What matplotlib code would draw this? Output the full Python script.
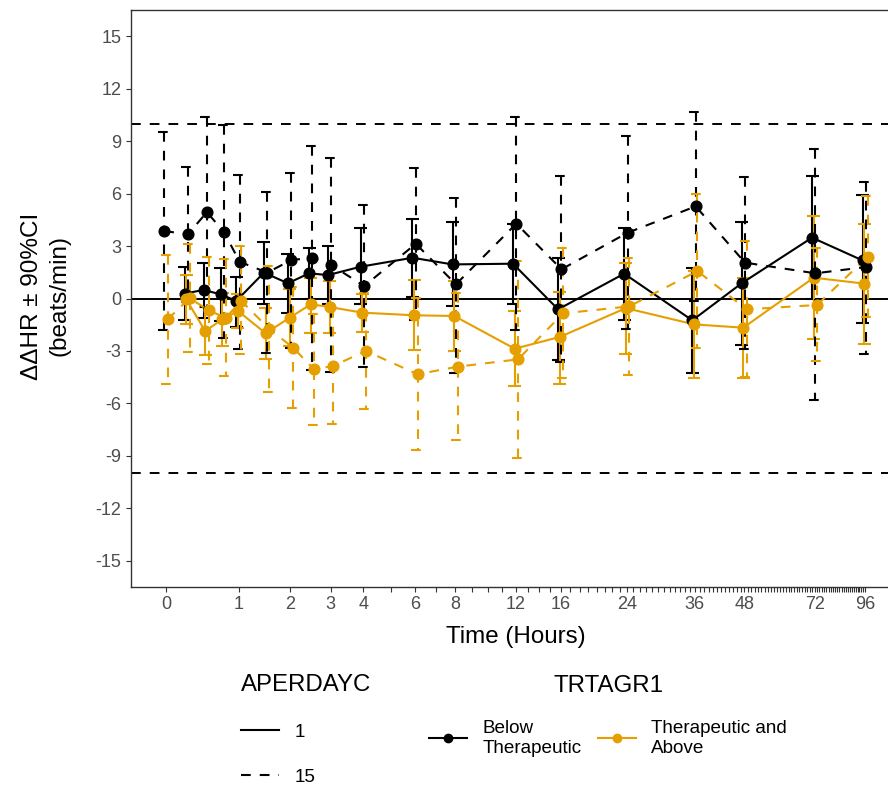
import matplotlib.pyplot as plt
import numpy as np
from matplotlib.lines import Line2D

plt.rcParams['font.family'] = ['Liberation Sans', 'DejaVu Sans']
plt.rcParams['lines.scale_dashes'] = False

ORANGE = "#E69F00"
DASH = (0, (7.0, 6.5))

# time points (hours)
t_solid = [0.25, 0.5, 0.75, 1, 1.5, 2, 2.5, 3, 4, 6, 8, 12, 16, 24, 36, 48, 72, 96]
t_dash = [0, 0.25, 0.5, 0.75, 1, 1.5, 2, 2.5, 3, 4, 6, 8, 12, 16, 24, 36, 48, 72, 96]

# Below Therapeutic, APERDAYC 1
bt1 = [0.28, 0.49, 0.24, -0.14, 1.48, 0.87, 1.44, 1.34, 1.82, 2.33, 1.95, 1.99, -0.62, 1.42, -1.25, 0.87, 3.48, 2.18]
bt1_lo = [-1.23, -1.10, -1.28, -1.63, -0.33, -0.81, -0.01, -0.30, -0.30, 0.10, -0.45, -0.30, -3.53, -1.21, -4.24, -2.68, -0.05, -1.38]
bt1_hi = [1.80, 2.05, 1.76, 1.25, 3.25, 2.52, 2.90, 3.00, 4.05, 4.56, 4.39, 4.28, 2.30, 4.05, 1.76, 4.39, 7.00, 5.90]

# Therapeutic and Above, APERDAYC 1
ta1 = [-0.05, -1.86, -1.19, -0.71, -1.99, -1.10, -0.33, -0.49, -0.81, -0.96, -1.00, -2.87, -2.20, -0.55, -1.48, -1.67, 1.19, 0.85]
ta1_lo = [-1.44, -3.23, -2.71, -1.66, -3.46, -2.72, -1.95, -2.00, -1.90, -2.96, -3.00, -5.03, -4.87, -3.20, -4.56, -4.52, -2.29, -2.62]
ta1_hi = [1.34, -0.46, 0.33, 0.24, -0.52, 0.52, 1.19, 1.00, 0.28, 1.06, 1.00, -0.71, 0.39, 2.05, 1.60, 1.19, 4.71, 4.27]

# Below Therapeutic, APERDAYC 15
bt15 = [3.86, 3.67, 4.94, 3.80, 2.10, 1.48, 2.20, 2.33, 1.91, 0.71, 3.13, 0.81, 4.28, 1.67, 3.76, 5.27, 2.05, 1.44, 1.80]
bt15_lo = [-1.82, -0.19, -0.51, -2.25, -2.86, -3.13, -2.81, -4.09, -4.19, -3.91, -1.22, -4.24, -1.81, -3.66, -1.77, -0.14, -2.86, -5.80, -3.19]
bt15_hi = [9.51, 7.53, 10.39, 9.91, 7.06, 6.10, 7.19, 8.75, 8.01, 5.34, 7.48, 5.72, 10.37, 7.00, 9.29, 10.68, 6.96, 8.56, 6.66]

# Therapeutic and Above, APERDAYC 15
ta15 = [-1.19, 0.02, -0.68, -1.10, -0.14, -1.73, -2.81, -4.05, -3.86, -3.00, -4.33, -3.90, -3.48, -0.85, -0.45, 1.57, -0.62, -0.37, 2.39]
ta15_lo = [-4.87, -3.04, -3.76, -4.45, -3.19, -5.32, -6.27, -7.23, -7.15, -6.33, -8.68, -8.09, -9.13, -4.52, -4.40, -2.81, -4.50, -3.57, -1.08]
ta15_hi = [2.49, 3.09, 2.39, 2.24, 3.00, 1.86, 0.65, -0.87, -0.57, 0.33, 0.02, 0.29, 2.17, 2.87, 2.30, 5.95, 3.29, 2.90, 5.86]

x_breaks = [0, 1, 2, 3, 4, 6, 8, 12, 16, 24, 36, 48, 72, 96]
y_breaks = list(range(-15, 16, 3))


def fwd(x):
    return np.log(np.asarray(x, dtype=float) + 2)


def inv(y):
    return np.exp(np.asarray(y, dtype=float)) - 2


# dodge order: solid black, solid orange, dashed black, dashed orange
series = [
    (t_solid, bt1, bt1_lo, bt1_hi, "black", "-"),
    (t_solid, ta1, ta1_lo, ta1_hi, ORANGE, "-"),
    (t_dash, bt15, bt15_lo, bt15_hi, "black", DASH),
    (t_dash, ta15, ta15_lo, ta15_hi, ORANGE, DASH),
]
dodge_w = 0.0375
cap = 0.036
lw = 1.5

fig = plt.figure(figsize=(8.88, 7.86), dpi=100)
ax = fig.add_axes([131 / 888, 1 - 587 / 786, 769 / 888, 577 / 786])
ax.set_xscale('function', functions=(fwd, inv))

ax.axhline(0, color="black", lw=1.4, zorder=1)
ax.axhline(10, color="black", lw=1.4, ls=DASH, zorder=1)
ax.axhline(-10, color="black", lw=1.4, ls=DASH, zorder=1)

for k, (t, y, lo, hi, col, ls) in enumerate(series):
    offs = []
    for tt in t:
        present = [i for i, s in enumerate(series) if tt in s[0]]
        n = len(present)
        j = present.index(k)
        offs.append(-dodge_w / 2 + dodge_w / (2 * n) + j * dodge_w / n)
    xl_ = fwd(t) + np.array(offs)
    x = inv(xl_)
    ax.vlines(x, hi, lo, colors=col, linestyles=ls, lw=lw, zorder=2)
    ax.hlines(hi, inv(xl_ - cap), inv(xl_ + cap), colors=col, linestyles=ls, lw=lw, zorder=2)
    ax.hlines(lo, inv(xl_ - cap), inv(xl_ + cap), colors=col, linestyles=ls, lw=lw, zorder=2)
    ax.plot(x, y, color=col, ls=ls, lw=lw, zorder=3)
    ax.plot(x, y, 'o', color=col, ms=7.7, zorder=4)

rng = fwd(96) - fwd(0)
ax.set_xlim(inv(fwd(0) - 0.05 * rng), inv(fwd(96) + 0.05 * rng))
ax.set_ylim(-16.5, 16.5)

ax.set_xticks(x_breaks)
ax.set_xticklabels([str(b) for b in x_breaks])
ax.set_xticks([v for v in range(0, 97) if v not in x_breaks], minor=True)
ax.set_yticks(y_breaks)
ax.set_yticklabels([str(b) for b in y_breaks])
ax.tick_params(axis='both', which='both', colors="#333333", labelcolor="#4D4D4D",
               length=3.5, width=0.8, labelsize=13)
ax.tick_params(axis='x', which='both', pad=3)
for sp in ax.spines.values():
    sp.set_color("#333333")
    sp.set_linewidth(1.0)

ax.set_xlabel("Time (Hours)", fontsize=17.4, labelpad=9)
fig.text(46 / 888, 1 - 296 / 786, "ΔΔHR ± 90%CI\n(beats/min)", rotation=90,
         ha='center', va='center', multialignment='center', fontsize=17.5, linespacing=1.3)

h1 = [Line2D([], [], color="black", lw=lw, ls="-"),
      Line2D([], [], color="black", lw=lw, ls=DASH)]
leg1 = fig.legend(h1, ["1", "15"], title="APERDAYC", loc='upper left',
                  bbox_to_anchor=(232 / 888, 1 - 665 / 786), frameon=False,
                  fontsize=13.6, title_fontsize=17.3, handlelength=2.0,
                  handletextpad=0.8, labelspacing=1.45, borderpad=0, alignment='left')

h2 = [Line2D([], [], color="black", lw=lw, marker='o', ms=6),
      Line2D([], [], color=ORANGE, lw=lw, marker='o', ms=6)]
leg2 = fig.legend(h2, ["Below\nTherapeutic", "Therapeutic and\nAbove"], title="TRTAGR1",
                  loc='upper left', bbox_to_anchor=(420 / 888, 1 - 666 / 786), frameon=False,
                  ncol=2, fontsize=13.6, title_fontsize=17.3, handlelength=2.0,
                  handletextpad=0.8, columnspacing=0.9, labelspacing=1.2, borderpad=0)

fig.savefig("out.png", dpi=100)
